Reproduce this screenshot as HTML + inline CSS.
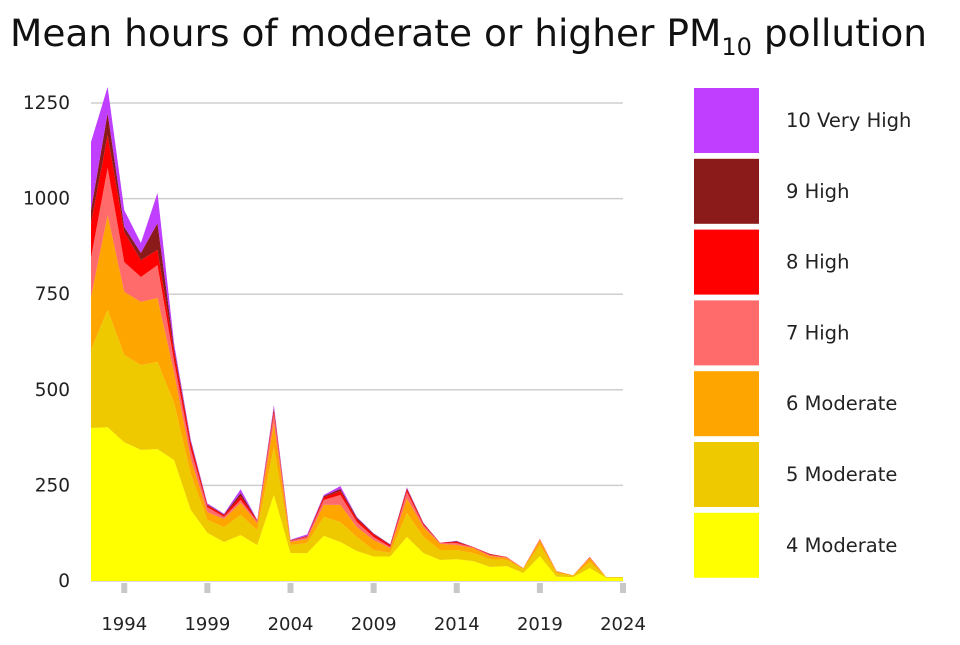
<!DOCTYPE html>
<html><head><meta charset="utf-8"><style>
body{margin:0;background:#fff;font-family:"Liberation Sans","DejaVu Sans",sans-serif;}
svg text{font-family:"DejaVu Sans","Liberation Sans",sans-serif;}
</style></head><body>
<svg id="c" width="960" height="640" xmlns="http://www.w3.org/2000/svg">
<text x="10" y="46" font-size="37.5" fill="#111">Mean hours of moderate or higher PM<tspan font-size="24" dy="9">10</tspan><tspan dy="-9"> pollution</tspan></text>
</svg>
<script>
const years=[1992,1993,1994,1995,1996,1997,1998,1999,2000,2001,2002,2003,2004,2005,2006,2007,2008,2009,2010,2011,2012,2013,2014,2015,2016,2017,2018,2019,2020,2021,2022,2023,2024];
const band4=[400,402,363,343,345,316,186,126,102,120,94,225,73,73,118,102,78,64,64,115,73,55,57,52,37,39,21,65,11,10,34,8,8];
const band5=[205,307,228,222,228,149,94,34,39,53,39,125,21,26,50,52,37,17,10,63,42,26,24,21,20,16,10,29,10,3,16,2,2];
const band6=[138,248,165,165,167,80,40,20,21,31,18,63,8,11,31,45,26,26,12,38,26,16,13,13,8,5,2,13,4,2,10,0,0];
const band7=[102,123,78,65,86,30,25,13,6,8,5,25,3,5,13,26,13,8,3,17,5,2,5,2,3,2,1,2,1,0,2,0,0];
const band8=[91,86,79,44,40,23,15,5,4,10,2,9,1,2,7,10,7,7,4,7,3,1,3,1,2,1,0,1,0,0,1,0,0];
const band9=[34,58,13,19,70,10,5,2,2,8,1,6,1,1,3,6,4,2,2,3,2,0,2,0,1,0,0,0,0,0,0,0,0];
const band10=[178,68,44,26,79,12,5,3,2,10,1,7,1,4,3,7,2,1,1,2,1,0,1,0,0,0,0,0,0,0,0,0,0];
const seriesNames=["4 Moderate","5 Moderate","6 Moderate","7 High","8 High","9 High","10 Very High"];
const yTicks=[0,250,500,750,1000,1250];
const xTicks=[1994,1999,2004,2009,2014,2019,2024];

const colors=["#ffff00","#eec900","#ffa500","#ff6a6a","#ff0000","#8b1a1a","#bf3eff"];
const NS="http://www.w3.org/2000/svg";
const svg=document.getElementById('c');
const X0=91,X1=623,Y0=581,Y1=103;
const xs=y=>X0+(y-1992)*(X1-X0)/(2024-1992);
const ys=v=>Y0-v*(Y0-Y1)/1250;
function mk(t,a){const e=document.createElementNS(NS,t);for(const k in a)e.setAttribute(k,a[k]);svg.appendChild(e);return e;}
yTicks.forEach(v=>{
  const l=mk('line',{x1:X0,x2:X1,y1:ys(v),y2:ys(v),stroke:'#cfcfcf','stroke-width':1.5});
  
  
  const t=mk('text',{x:70,y:ys(v)+6,'text-anchor':'end','font-size':18.5,fill:'#222'});
  t.textContent=v;
  
  
});
const bands=[band4,band5,band6,band7,band8,band9,band10];
let base=years.map(()=>0);
bands.forEach((b,i)=>{
  const top=base.map((v,j)=>v+b[j]);
  let d='M'+years.map((y,j)=>xs(y)+','+ys(top[j])).join('L');
  for(let j=years.length-1;j>=0;j--)d+='L'+xs(years[j])+','+ys(base[j]);
  const p=mk('path',{d:d+'Z',fill:colors[i]});
  
  
  base=top;
});
xTicks.forEach(y=>{
  const r=mk('rect',{x:xs(y)-3,y:583,width:6,height:10,fill:'#c8c8c8'});
  
  
  const t=mk('text',{x:xs(y),y:630,'text-anchor':'middle','font-size':18,fill:'#222'});
  t.textContent=y;
  
  
});
for(let i=0;i<7;i++){
  const k=6-i, top=88+i*70.8;
  const r=mk('rect',{x:694,y:top,width:65,height:65,fill:colors[k]});
  
  
  const t=mk('text',{x:786,y:top+39,'font-size':19.5,fill:'#222'});
  t.textContent=seriesNames[k];
  
  
}
</script>
</body></html>
